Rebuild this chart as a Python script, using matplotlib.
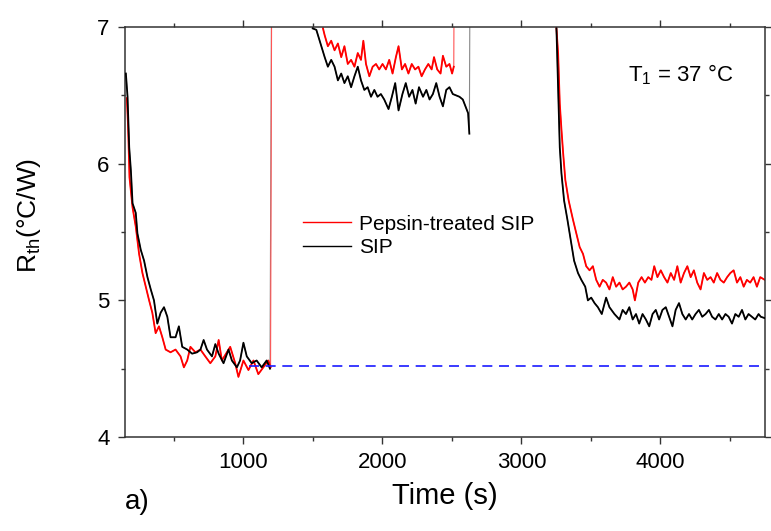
import numpy as np
import matplotlib
matplotlib.use("Agg")
import matplotlib.pyplot as plt
from matplotlib.ticker import MultipleLocator

plt.rcParams['font.family'] = ['Liberation Sans', 'DejaVu Sans']
plt.rcParams['mathtext.default'] = 'regular'

# SIP (black), 8.0 = off-scale (above 7)
t_sip = [157, 169, 181, 193, 205, 228, 240, 264, 288, 312, 336, 359, 383, 407,
         431, 455, 478, 514, 538, 562, 598, 633, 669, 693, 716, 740, 776, 800,
         824, 859, 895, 919, 955, 978, 1002, 1026, 1062, 1097, 1133, 1169, 1193,
         1207, 1480,
         1500, 1526, 1550, 1586, 1609, 1633, 1657, 1681, 1705, 1728, 1752, 1776,
         1800, 1824, 1847, 1871, 1895, 1919, 1943, 1966, 1990, 2014, 2045, 2069,
         2093, 2117, 2145, 2169, 2193, 2217, 2240, 2264, 2293, 2317, 2340, 2364,
         2388, 2412, 2436, 2460, 2483, 2507, 2531, 2555, 2579, 2598, 2617, 2626,
         2633, 3248,
         3252, 3264, 3276, 3288, 3307, 3331, 3355, 3379, 3407, 3431, 3459, 3478,
         3502, 3526, 3550, 3578, 3609, 3633, 3669, 3705, 3728, 3752, 3776, 3800,
         3824, 3847, 3871, 3895, 3919, 3943, 3966, 3990, 4014, 4038, 4062, 4086,
         4109, 4133, 4157, 4181, 4205, 4228, 4252, 4276, 4300, 4324, 4348, 4371,
         4395, 4419, 4443, 4467, 4490, 4514, 4538, 4562, 4586, 4610, 4633, 4657,
         4681, 4705, 4721, 4750]
r_sip = [6.66, 6.49, 6.12, 5.95, 5.71, 5.64, 5.49, 5.37, 5.29, 5.17, 5.08, 5.00,
         4.83, 4.91, 4.95, 4.88, 4.73, 4.73, 4.81, 4.66, 4.64, 4.61, 4.62, 4.64,
         4.71, 4.64, 4.59, 4.68, 4.61, 4.54, 4.64, 4.56, 4.51, 4.56, 4.69, 4.59,
         4.54, 4.56, 4.51, 4.56, 4.50,
         8.0, 8.0,
         6.99, 6.98, 6.90, 6.78, 6.71, 6.76, 6.71, 6.61, 6.66, 6.59, 6.64, 6.56,
         6.64, 6.71, 6.61, 6.54, 6.56, 6.49, 6.54, 6.49, 6.51, 6.47, 6.40, 6.49,
         6.59, 6.39, 6.51, 6.59, 6.49, 6.54, 6.44, 6.56, 6.49, 6.54, 6.47, 6.51,
         6.59, 6.49, 6.42, 6.54, 6.56, 6.51, 6.50, 6.49, 6.47, 6.42, 6.37, 6.22,
         8.0, 8.0,
         6.99, 6.56, 6.12, 5.93, 5.73, 5.59, 5.44, 5.29, 5.20, 5.15, 5.10, 5.00,
         5.02, 4.98, 4.95, 4.90, 5.02, 4.95, 4.90, 4.86, 4.93, 4.90, 4.95, 4.86,
         4.90, 4.83, 4.90, 4.86, 4.81, 4.90, 4.93, 4.86, 4.93, 4.95, 4.88, 4.81,
         4.93, 4.98, 4.90, 4.86, 4.90, 4.86, 4.90, 4.93, 4.88, 4.90, 4.93, 4.88,
         4.86, 4.90, 4.86, 4.90, 4.88, 4.83, 4.90, 4.88, 4.93, 4.86, 4.90, 4.88,
         4.86, 4.90, 4.88, 4.87]

# Pepsin-treated SIP (red)
t_pep = [164, 173, 183, 205, 228, 252, 276, 300, 324, 347, 371, 395, 419, 443,
         478, 514, 550, 574, 598, 621, 657, 693, 728, 764, 800, 824, 847, 883,
         907, 943, 966, 1002, 1038, 1074, 1109, 1145, 1181, 1197,
         1207, 1565,
         1574, 1586, 1609, 1633, 1657, 1681, 1705, 1728, 1752, 1776, 1800, 1824,
         1847, 1864, 1883, 1907, 1931, 1955, 1978, 2002, 2026, 2050, 2074, 2098,
         2117, 2141, 2164, 2188, 2212, 2236, 2260, 2283, 2307, 2331, 2355, 2372,
         2395, 2419, 2436, 2460, 2483, 2502, 2514,
         2519, 3248,
         3252, 3264, 3276, 3288, 3300, 3316, 3340, 3371, 3395, 3419, 3443, 3466,
         3490, 3514, 3538, 3562, 3585, 3609, 3633, 3657, 3681, 3705, 3728, 3752,
         3776, 3800, 3816, 3840, 3864, 3888, 3912, 3935, 3955, 3978, 4002, 4026,
         4050, 4074, 4098, 4121, 4145, 4169, 4193, 4217, 4240, 4264, 4288, 4312,
         4336, 4360, 4383, 4407, 4431, 4455, 4479, 4502, 4526, 4550, 4574, 4598,
         4621, 4645, 4669, 4693, 4717, 4750]
r_pep = [6.48, 6.27, 5.90, 5.68, 5.54, 5.34, 5.20, 5.10, 5.00, 4.91, 4.76, 4.81,
         4.73, 4.64, 4.62, 4.64, 4.59, 4.51, 4.56, 4.66, 4.62, 4.64, 4.59, 4.54,
         4.59, 4.71, 4.56, 4.62, 4.66, 4.54, 4.44, 4.56, 4.49, 4.56, 4.46, 4.51,
         4.56, 4.51,
         8.0, 8.0,
         6.99, 6.94, 6.86, 6.90, 6.83, 6.88, 6.78, 6.86, 6.73, 6.76, 6.71, 6.81,
         6.76, 6.90, 6.73, 6.64, 6.71, 6.73, 6.69, 6.73, 6.69, 6.76, 6.66, 6.78,
         6.86, 6.69, 6.73, 6.66, 6.73, 6.69, 6.71, 6.64, 6.69, 6.73, 6.69, 6.78,
         6.69, 6.66, 6.79, 6.71, 6.73, 6.66, 6.71,
         8.0, 8.0,
         6.99, 6.81, 6.44, 6.25, 6.08, 5.88, 5.73, 5.59, 5.49, 5.39, 5.34, 5.25,
         5.22, 5.25, 5.15, 5.10, 5.15, 5.13, 5.08, 5.17, 5.10, 5.13, 5.08, 5.10,
         5.13, 5.08, 5.00, 5.13, 5.17, 5.13, 5.17, 5.15, 5.25, 5.17, 5.22, 5.17,
         5.13, 5.20, 5.15, 5.25, 5.13, 5.20, 5.25, 5.17, 5.22, 5.13, 5.08, 5.20,
         5.15, 5.17, 5.13, 5.20, 5.15, 5.13, 5.17, 5.20, 5.22, 5.13, 5.17, 5.10,
         5.15, 5.13, 5.17, 5.10, 5.17, 5.15]

# baseline level
t_base = [1040, 4750]
r_base = [4.52, 4.52]

t_sip, r_sip = np.array(t_sip), np.array(r_sip)
t_pep, r_pep = np.array(t_pep), np.array(r_pep)

fig = plt.figure(figsize=(7.71, 5.31), dpi=100)
ax = fig.add_axes([0.162, 0.177, 0.830, 0.772])

# thin traces incl. the off-scale jumps
ax.plot(t_sip, r_sip, color='#888888', lw=0.8, zorder=1)
ax.plot(t_pep, r_pep, color='#ff5555', lw=0.8, zorder=1)
# measured segments (off-scale points masked)
ax.plot(t_pep, np.where(r_pep > 7.5, np.nan, r_pep), color='#ff0000', lw=1.3,
        zorder=2, label='Pepsin-treated SIP')
ax.plot(t_sip, np.where(r_sip > 7.5, np.nan, r_sip), color='black', lw=1.3,
        zorder=3, label='SIP')
ax.plot(t_base, r_base, color='#1a1aff', lw=1.2, ls=(0, (6, 4)), zorder=5)

ax.set_xlim(150, 4750)
ax.set_ylim(4, 7)
ax.set_xticks([1000, 2000, 3000, 4000])
ax.set_yticks([4, 5, 6, 7])
ax.xaxis.set_minor_locator(MultipleLocator(500))
ax.yaxis.set_minor_locator(MultipleLocator(0.5))
ax.tick_params(which='both', direction='out', top=True, right=True,
               labeltop=False, labelright=False, width=1, color='#333333')
ax.tick_params(which='major', length=5, labelsize=16, pad=6)
ax.tick_params(which='minor', length=3)
for s in ax.spines.values():
    s.set_linewidth(1.1)
    s.set_color('#333333')

ax.set_xlabel('Time (s)', fontsize=21, labelpad=6)
ax.set_ylabel(r'R$_{th}$(°C/W)', fontsize=19)
ax.yaxis.set_label_coords(-0.128, 0.54)

leg = ax.legend(loc='center left', bbox_to_anchor=(0.262, 0.491), frameon=False,
                fontsize=15, handlelength=2.3, handletextpad=0.4,
                labelspacing=0.2, borderpad=0)
for h in leg.get_lines():
    h.set_linewidth(1.0)

fig.text(628 / 771, 1 - 75 / 531, r'T$_1$ = 37 °C', fontsize=16,
         va='center', ha='left')
fig.text(125 / 771, 1 - 502 / 531, 'a)', fontsize=20, va='center', ha='left')

fig.savefig('out.png', dpi=100)
